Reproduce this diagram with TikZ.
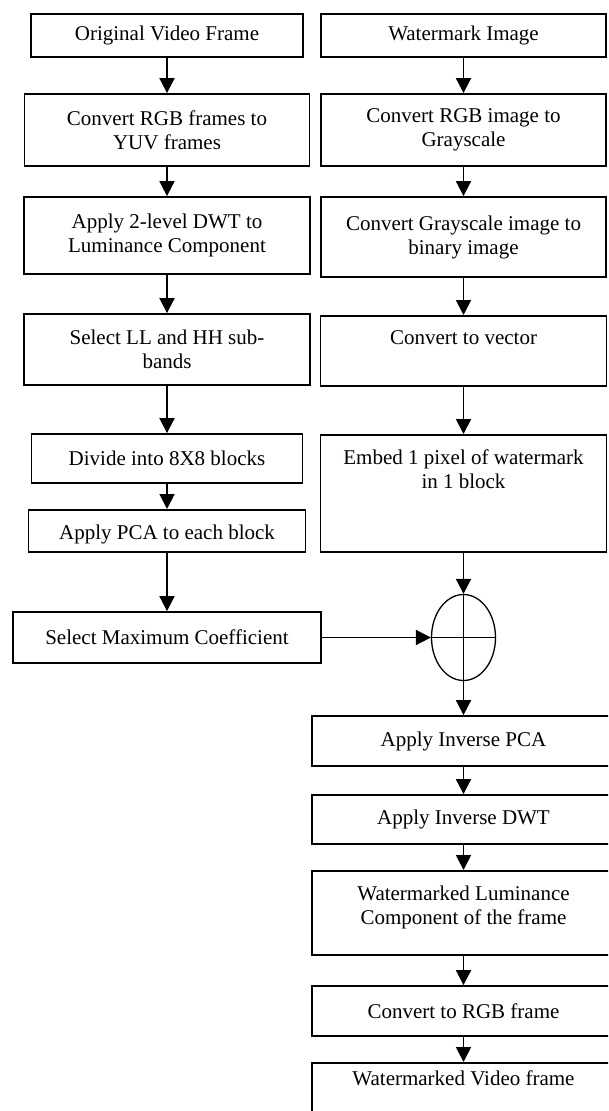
\documentclass[tikz,border=0pt]{standalone}
\usepackage{fontspec}
\setmainfont{Liberation Serif}
\usepackage{tikz}
\usetikzlibrary{shapes.geometric}
\usetikzlibrary{arrows.meta}

\begin{document}
\begin{tikzpicture}[
    x=1pt, y=-1pt,
    every node/.style={rectangle, draw, line width=1.8pt, inner sep=0pt, align=center,
                       font=\fontsize{21}{24}\selectfont},
    top text/.style 2 args={text height=#1, text depth=#2},
    link/.style={line width=1.8pt, -{Triangle[length=15pt, width=15pt]}},
  ]
  \useasboundingbox (0,0) rectangle (608,1111);
  \clip (0,0) rectangle (608,1111);

  % Nodes (left column)
  \node[minimum width=272pt, minimum height=43pt] (orig)  at (167, 35.5)  {Original Video Frame};
  \node[minimum width=285pt, minimum height=72pt] (yuv)   at (167, 130)   {Convert RGB frames to\\YUV frames};
  \node[minimum width=286pt, minimum height=77pt] (dwt)   at (167, 235.5) {Apply 2-level DWT to\\Luminance Component};
  \node[minimum width=286pt, minimum height=71pt] (bands) at (167, 349.5) {Select LL and HH sub-\\bands};
  \node[minimum width=271pt, minimum height=49pt] (split) at (167, 458.5) {Divide into 8X8 blocks};
  \node[minimum width=277pt, top text={30pt}{12pt}, anchor=north] (pca) at (167, 509) {Apply PCA to each block};
  \node[minimum width=308pt, minimum height=51pt] (maxc)  at (167, 637.5) {Select Maximum Coefficient};

  % Nodes (right column)
  \node[minimum width=285pt, minimum height=43pt] (wmimg)  at (463.5, 35.5) {Watermark Image};
  \node[minimum width=285pt, minimum height=72pt] (gray)   at (463.5, 130)  {Convert RGB image to\\Grayscale};
  \node[minimum width=285pt, minimum height=80pt] (binary) at (463.5, 237)  {Convert Grayscale image to\\binary image};
  \node[minimum width=286pt, top text={29pt}{41pt}, anchor=north] (vector) at (463.5, 315) {Convert to vector};
  \node[minimum width=286pt, top text={54pt}{63pt}, anchor=north] (embed)  at (463.5, 434) {Embed 1 pixel of watermark\\in 1 block};
  \node[ellipse, line width=1.3pt, minimum width=64pt, minimum height=86pt] (sum) at (463.5, 637.5) {};
  \node[minimum width=303pt, minimum height=50pt] (ipca)  at (463.5, 741)   {Apply Inverse PCA};
  \node[minimum width=303pt, minimum height=49pt] (idwt)  at (463.5, 819.5) {Apply Inverse DWT};
  \node[minimum width=303pt, top text={54pt}{30pt}, anchor=north] (lum) at (463.5, 870) {Watermarked Luminance\\Component of the frame};
  \node[minimum width=303pt, minimum height=50pt] (torgb) at (463.5, 1011)  {Convert to RGB frame};
  \node[minimum width=303pt, top text={23pt}{45pt}, anchor=north] (out) at (463.5, 1062) {Watermarked Video frame};

  % Plus sign inside the adder
  \draw[line width=1.3pt] (sum.north) -- (sum.south);
  \draw[line width=1.3pt] (sum.west) -- (sum.east);

  % Edges
  \draw[link] (orig)  -- (yuv);
  \draw[link] (yuv)   -- (dwt);
  \draw[link] (dwt)   -- (bands);
  \draw[link] (bands) -- (split);
  \draw[link] (split) -- (pca);
  \draw[link] (pca)   -- (maxc);
  \draw[link] (wmimg)  -- (gray);
  \draw[link] (gray)   -- (binary);
  \draw[link] (binary) -- (vector);
  \draw[link] (vector) -- (embed);
  \draw[link] (embed.south) -- (sum.north);
  \draw[link] (maxc.east) -- (sum.west);
  \draw[link] (sum.south) -- (ipca.north);
  \draw[link] (ipca)  -- (idwt);
  \draw[link] (idwt)  -- (lum);
  \draw[link] (lum)   -- (torgb);
  \draw[link] (torgb) -- (out);

\end{tikzpicture}
\end{document}
